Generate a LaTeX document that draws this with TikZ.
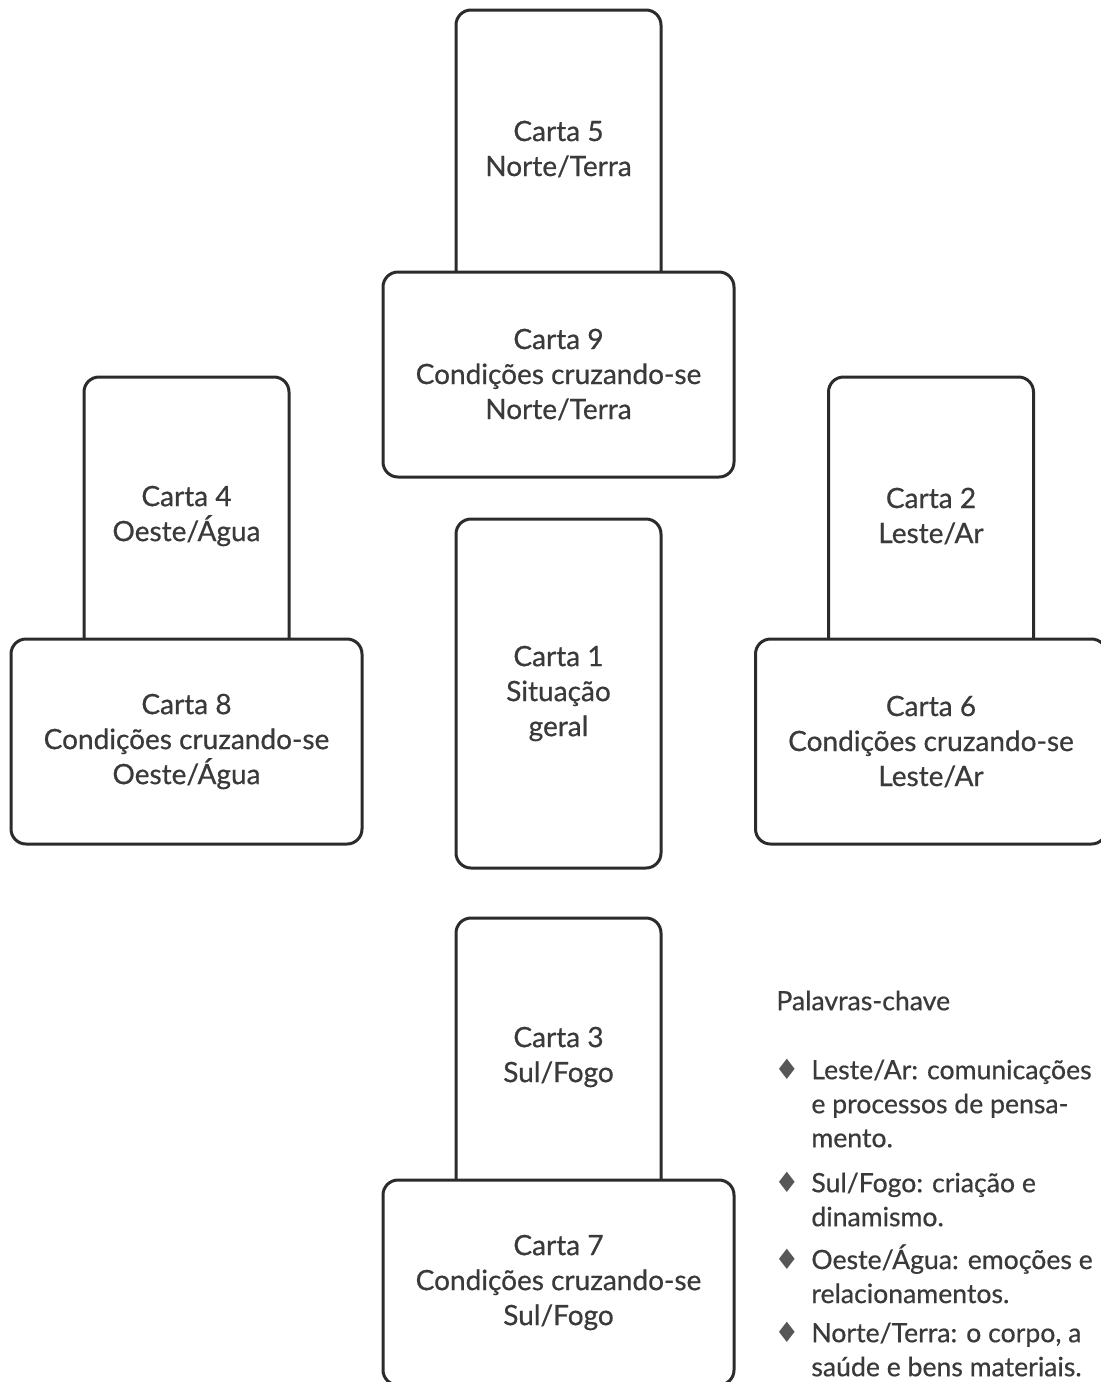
\documentclass[tikz,border=0pt]{standalone}
\usepackage{fontspec}
\setmainfont{Lato}[FakeBold=0.6]
\newfontfamily\symfont{DejaVu Sans}
\usetikzlibrary{positioning}
\definecolor{ink}{HTML}{2B2B2B}
\definecolor{inktext}{HTML}{3A3A3A}
\newcommand{\keybullet}{\makebox[0pt][r]{{\symfont\fontsize{14}{14}\selectfont\color{inktext!85}♦}\hspace{6pt}}}
\tikzset{
	card/.style={
		draw=ink, line width=1.5pt, rounded corners=7.5pt, fill=white,
		inner sep=0pt, outer sep=0pt, align=center, text=inktext,
		font=\fontsize{14}{17.5}\selectfont
	},
	tallcard/.style={card, minimum width=102.5pt, minimum height=139pt},
	crosscard/.style={card, minimum width=175.5pt, minimum height=102.5pt},
	centercard/.style={card, minimum width=102.5pt, minimum height=174.5pt},
}
\begin{document}
\begin{tikzpicture}[x=0.5pt, y=-0.5pt,
			keytext/.style={
				anchor=north west, inner sep=0pt, align=left, text=inktext,
				font=\fontsize{13.3}{17}\selectfont
			}]
		\useasboundingbox (0,0) rectangle (1101,1382);
		\clip (0,0) rectangle (1101,1382);
		% north
		\node[tallcard] (c5) at (558.5,149) {Carta 5\\Norte/Terra};
		\node[crosscard, below=-8pt of c5] (c9) {Carta 9\\Condições cruzando-se\\Norte/Terra};
		% west
		\node[tallcard] (c4) at (186.5,516) {Carta 4\\Oeste/Água};
		\node[crosscard, below=-8pt of c4] (c8) {Carta 8\\Condições cruzando-se\\Oeste/Água};
		% east
		\node[tallcard] (c2) at (931,516) {Carta 2\\Leste/Ar};
		\node[crosscard, below=-8pt of c2] (c6) {Carta 6\\Condições cruzando-se\\Leste/Ar};
		% centre
		\node[centercard] (c1) at (558.5,693.5) {Carta 1\\Situação\\geral};
		% south
		\node[tallcard] (c3) at (558.5,1057) {Carta 3\\Sul/Fogo};
		\node[crosscard, below=-8pt of c3] (c7) {Carta 7\\Condições cruzando-se\\Sul/Fogo};
		% key
		\node[keytext] (kh) at (776,986) {\strut Palavras-chave};
		\node[keytext] (k1) at (811,1055) {\keybullet\strut Leste/Ar: comunicações\\e processos de pensa-\\mento.};
		\node[keytext] (k2) at (811,1168) {\keybullet\strut Sul/Fogo: criação e\\dinamismo.};
		\node[keytext] (k3) at (811,1244) {\keybullet\strut Oeste/Água: emoções e\\relacionamentos.};
		\node[keytext] (k4) at (811,1318) {\keybullet\strut Norte/Terra: o corpo, a\\saúde e bens materiais.};
	\end{tikzpicture}
\end{document}
